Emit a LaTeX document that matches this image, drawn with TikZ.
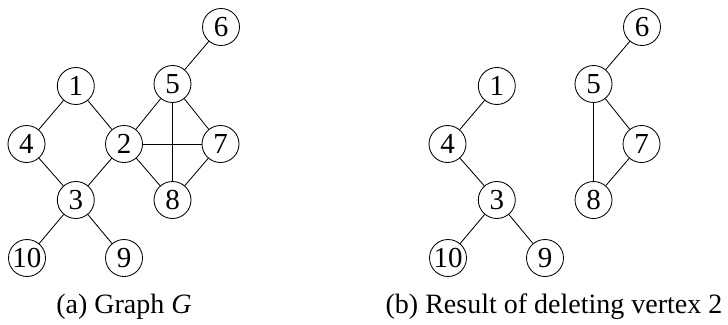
\documentclass[tikz,border=0pt]{standalone}
\usepackage{fontspec}
\setmainfont{Liberation Serif}
\begin{document}
\begin{tikzpicture}[x=1pt,y=-1pt,
  vtx/.style={circle,draw,line width=0.85pt,minimum size=37pt,inner sep=0pt,font=\fontsize{29}{30}\selectfont},
  edge/.style={line width=0.85pt},
  captext/.style={font=\fontsize{28}{30}\selectfont,anchor=center}]
\useasboundingbox (0,0) rectangle (728,324);
% Graph (a)
\begin{scope}
\node[vtx] (a6) at (221,27) {6};
\node[vtx] (a1) at (75.8,86) {1};
\node[vtx] (a5) at (172.5,84) {5};
\node[vtx] (a4) at (26.5,144) {4};
\node[vtx] (a2) at (124,144) {2};
\node[vtx] (a7) at (220.5,144) {7};
\node[vtx] (a3) at (75.8,200) {3};
\node[vtx] (a8) at (172.5,200) {8};
\node[vtx] (a10) at (27,258) {10};
\node[vtx] (a9) at (124,258) {9};
\draw[edge] (a6) -- (a5);
\draw[edge] (a1) -- (a4);
\draw[edge] (a1) -- (a2);
\draw[edge] (a4) -- (a3);
\draw[edge] (a2) -- (a3);
\draw[edge] (a2) -- (a5);
\draw[edge] (a2) -- (a8);
\draw[edge,line width=0.7pt] (a2) -- (a7);
\draw[edge,line width=0.7pt] (a5) -- (a8);
\draw[edge] (a5) -- (a7);
\draw[edge] (a7) -- (a8);
\draw[edge] (a3) -- (a10);
\draw[edge] (a3) -- (a9);
\node[captext] (capa) at (124,307) {(a) Graph \textit{G}};
\end{scope}
% Graph (b)
\begin{scope}
\node[vtx] (b6) at (642,27) {6};
\node[vtx] (b1) at (496.8,86) {1};
\node[vtx] (b5) at (593.5,84) {5};
\node[vtx] (b4) at (447.5,144) {4};
\node[vtx] (b7) at (641.5,144) {7};
\node[vtx] (b3) at (496.8,200) {3};
\node[vtx] (b8) at (593.5,200) {8};
\node[vtx] (b10) at (448,258) {10};
\node[vtx] (b9) at (545,258) {9};
\draw[edge] (b6) -- (b5);
\draw[edge] (b1) -- (b4);
\draw[edge] (b4) -- (b3);
\draw[edge] (b3) -- (b10);
\draw[edge] (b3) -- (b9);
\draw[edge] (b5) -- (b7);
\draw[edge] (b5) -- (b8);
\draw[edge] (b7) -- (b8);
\node[captext] (capb) at (554,307) {(b) Result of deleting vertex 2};
\end{scope}
\end{tikzpicture}
\end{document}
